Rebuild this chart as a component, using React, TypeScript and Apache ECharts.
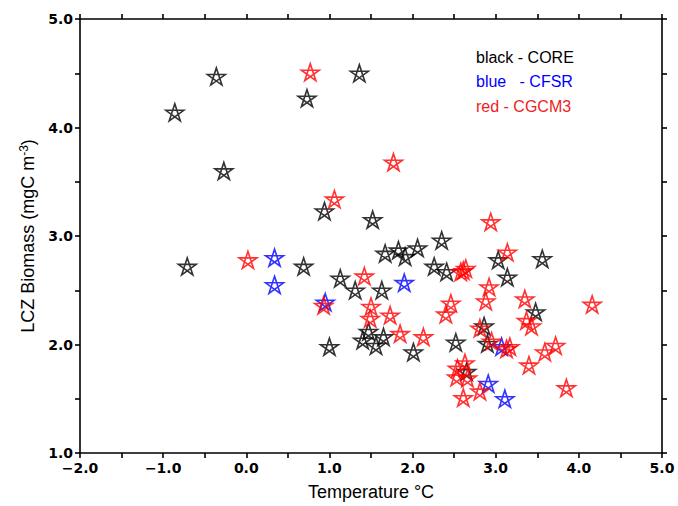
import { useEffect, useRef } from "react";
import * as echarts from "echarts";

// Axis ranges
const xRange = [-2, 5];
const yRange = [1, 5];

// CORE forcing (black)
const coreTemperature = [
  -0.86, -0.36, -0.27, -0.71, 0.73, 1.36, 0.94, 1.52, 0.69, 1.13, 1.31, 1.63,
  1.67, 1.83, 1.91, 2.06, 2.35, 2.26, 2.41, 3.03, 3.14, 3.56, 3.48, 1.0, 1.47,
  1.4, 1.65, 1.56, 2.01, 2.52, 2.86, 2.9, 2.65,
];
const coreBiomass = [
  4.14, 4.47, 3.6, 2.72, 4.27, 4.5, 3.23, 3.15, 2.72, 2.61, 2.5, 2.5, 2.84,
  2.87, 2.81, 2.89, 2.96, 2.72, 2.67, 2.78, 2.62, 2.79, 2.3, 1.98, 2.12, 2.04,
  2.07, 1.99, 1.93, 2.02, 2.17, 2.01, 1.75,
];

// CFSR forcing (blue)
const cfsrTemperature = [0.34, 0.34, 0.95, 1.9, 3.07, 2.91, 3.11];
const cfsrBiomass = [2.8, 2.55, 2.39, 2.57, 1.98, 1.64, 1.5];

// CGCM3 forcing (red)
const cgcmTemperature = [
  0.77, 1.06, 1.77, 2.94, 0.02, 1.42, 0.93, 1.5, 1.49, 1.73, 1.85, 2.13, 2.61,
  2.64, 2.58, 3.14, 2.92, 2.88, 3.35, 2.46, 2.4, 3.37, 3.43, 4.16, 2.81, 2.95,
  3.13, 3.17, 3.59, 3.72, 3.4, 2.63, 2.54, 2.53, 2.66, 2.81, 2.61, 3.85,
];
const cgcmBiomass = [
  4.51, 3.34, 3.68, 3.13, 2.78, 2.63, 2.36, 2.35, 2.24, 2.27, 2.1, 2.07, 2.68,
  2.7, 2.67, 2.85, 2.53, 2.4, 2.42, 2.38, 2.28, 2.22, 2.17, 2.37, 2.15, 2.03,
  1.96, 1.98, 1.93, 1.99, 1.81, 1.83, 1.78, 1.7, 1.69, 1.57, 1.51, 1.6,
];

const legendLabels = ["black - CORE", "blue   - CFSR", "red - CGCM3"];

// Open pentagram marker
const STAR =
  "path://M100,0 L158.78,180.9 L4.89,69.1 L195.11,69.1 L41.22,180.9 Z";

const pairs = (xs: number[], ys: number[]) => xs.map((x, i) => [x, ys[i]]);

const tickLabel = (v: number) => {
  if (Math.abs(v - Math.round(v)) > 1e-6) return "";
  const s = Math.abs(v).toFixed(1);
  return v < 0 ? "\u2212" + s : s;
};

const AXIS_COLOR = "#000";

function makeAxis(pos: string, min: number, max: number, withLabels: boolean, margin: number) {
  return {
    type: "value",
    position: pos,
    min,
    max,
    interval: 0.5,
    axisLine: { show: true, onZero: false, lineStyle: { color: AXIS_COLOR, width: 1.6 } },
    axisTick: { show: true, inside: false, length: 5, lineStyle: { color: AXIS_COLOR, width: 1.6 } },
    axisLabel: withLabels
      ? {
          show: true,
          formatter: tickLabel,
          color: "#000",
          fontFamily: "DejaVu Sans",
          fontWeight: "bold",
          fontSize: 14,
          margin,
        }
      : { show: false },
    splitLine: { show: false },
  };
}

function starSeries(name: string, data: number[][], color: string) {
  return {
    name,
    type: "scatter",
    data,
    symbol: STAR,
    symbolSize: [18, 17],
    itemStyle: { color: "rgba(0,0,0,0)", borderColor: color, borderWidth: 1.6 },
    emphasis: { disabled: true },
  };
}

export default function App() {
  const ref = useRef<HTMLDivElement>(null);

  useEffect(() => {
    if (!ref.current) return;
    const chart = echarts.init(ref.current, null, { renderer: "svg" });
    const legendColors = ["#000000", "#0000ff", "#ee1c24"];
    chart.setOption({
      animation: false,
      backgroundColor: "#fff",
      grid: { left: 80, right: 16, top: 19, bottom: 51, containLabel: false },
      xAxis: [
        {
          ...makeAxis("bottom", xRange[0], xRange[1], true, 8),
          name: "Temperature °C",
          nameLocation: "middle",
          nameGap: 30,
          nameTextStyle: { fontFamily: "Liberation Sans", fontSize: 18, color: "#000" },
        },
        makeAxis("top", xRange[0], xRange[1], false, 5),
      ],
      yAxis: [
        {
          ...makeAxis("left", yRange[0], yRange[1], true, 7),
          name: "{a|LCZ Biomass (mgC m}{b|-3}{a|)}",
          nameLocation: "middle",
          nameRotate: 90,
          nameGap: 39,
          nameTextStyle: {
            color: "#000",
            rich: {
              a: { fontFamily: "Liberation Sans", fontSize: 18, lineHeight: 21, color: "#000" },
              b: { fontFamily: "Liberation Sans", fontSize: 12, lineHeight: 21, verticalAlign: "top", color: "#000" },
            },
          },
        },
        makeAxis("right", yRange[0], yRange[1], false, 5),
      ],
      series: [
        starSeries("CORE", pairs(coreTemperature, coreBiomass), "#000000"),
        starSeries("CFSR", pairs(cfsrTemperature, cfsrBiomass), "#0000ff"),
        starSeries("CGCM3", pairs(cgcmTemperature, cgcmBiomass), "#ff0000"),
      ],
      graphic: legendLabels.map((text, i) => ({
        type: "text",
        x: 476,
        y: 57 + i * 24.5,
        silent: true,
        style: {
          text,
          fill: legendColors[i],
          fontFamily: "Liberation Sans",
          fontSize: 16,
          verticalAlign: "middle",
        },
      })),
    });
    return () => chart.dispose();
  }, []);

  return (
    <div
      ref={ref}
      style={{ position: "fixed", left: 0, top: 0, width: 678, height: 506 }}
    />
  );
}
